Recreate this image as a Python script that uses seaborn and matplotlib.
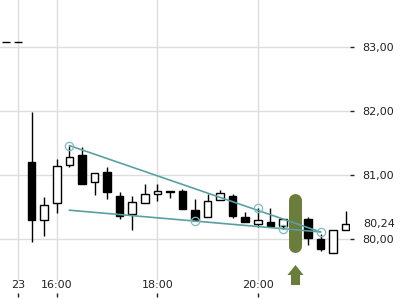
import matplotlib
matplotlib.use("Agg")
import matplotlib.pyplot as plt
import seaborn as sns
import numpy as np
import pandas as pd
from matplotlib.patches import Polygon

# ---- data ----
opens  = [81.20, 80.29, 80.57, 81.15, 81.31, 80.89, 81.05, 80.67, 80.39, 80.56, 80.70, 80.74, 80.75,
          80.45, 80.34, 80.61, 80.67, 80.35, 80.23, 80.27, 80.20, 80.31, 80.32, 80.00, 79.78, 80.14]
closes = [80.29, 80.53, 81.14, 81.28, 80.86, 81.03, 80.73, 80.36, 80.58, 80.70, 80.75, 80.75, 80.47,
          80.29, 80.60, 80.72, 80.36, 80.26, 80.29, 80.21, 80.31, 80.31, 80.01, 79.84, 80.14, 80.24]
highs  = [81.98, 80.65, 81.25, 81.46, 81.43, 81.03, 81.13, 80.74, 80.67, 80.86, 80.86, 80.75, 80.78,
          80.62, 80.70, 80.77, 80.71, 80.42, 80.48, 80.48, 80.31, 80.31, 80.34, 80.08, 80.14, 80.44]
lows   = [79.95, 80.05, 80.41, 81.13, 80.86, 80.68, 80.62, 80.31, 80.14, 80.56, 80.60, 80.64, 80.47,
          80.29, 80.34, 80.61, 80.33, 80.26, 80.19, 80.21, 80.15, 80.19, 79.90, 79.81, 79.78, 80.14]

x_tick_pos = [-1.1, 2, 10, 18]
x_tick_labels = ["23", "16:00", "18:00", "20:00"]
y_ticks = [80, 81, 82, 83]
y_tick_labels = ["80,00", "81,00", "82,00", "83,00"]
last_price = 80.24
last_label = "80,24"

upper_x = [3, 23]
upper_y = [81.46, 80.11]
lower_x = [3, 23]
lower_y = [80.45, 80.11]
touch_x = [3, 13, 18, 20, 23]
touch_y = [81.46, 80.28, 80.48, 80.15, 80.11]

prev_x = [-2.36, -0.77]
prev_y = [83.08, 83.08]

signal_idx = 22 - 1  # highlighted candle index

df = pd.DataFrame({"x": np.arange(len(opens)), "open": opens, "close": closes,
                   "high": highs, "low": lows})

# ---- style ----
sns.set_theme(style="white")
plt.rcParams['font.family'] = ['DejaVu Sans']
plt.rcParams['lines.scale_dashes'] = False

fig = plt.figure(figsize=(4, 3), dpi=100)
ax = fig.add_axes([0, 3/300, 350/400, 297/300])
ax.set_xlim(-2.524, 25.34)
ax.set_ylim(79.094, 83.734)
for s in ax.spines.values():
    s.set_visible(False)

grid_c = "#dddddd"
for yv in y_ticks:
    ax.axhline(yv, color=grid_c, lw=1.0, zorder=0)
for xv in x_tick_pos:
    ax.axvline(xv, ymin=0.057, ymax=1, color=grid_c, lw=1.0, zorder=0)

# wicks
ax.vlines(df["x"], df["low"], df["high"], color="black", lw=1.0, zorder=2)
# bodies
up = df["close"] >= df["open"]
bottoms = np.minimum(df["open"], df["close"])
heights = np.abs(df["close"] - df["open"])
ax.bar(df["x"], heights, bottom=bottoms, width=0.6,
       color=np.where(up, "white", "black"), edgecolor="black", linewidth=1.0, zorder=3)

# highlight oval
px = 12.56  # pixels per index unit
ax.plot([signal_idx, signal_idx], [80.617, 79.898], color="#6b7d3b", lw=13*0.72,
        solid_capstyle="round", zorder=4)
# up arrow
ax.add_patch(Polygon([[signal_idx, 79.594], [signal_idx + 0.64, 79.4375],
                      [signal_idx + 0.36, 79.4375], [signal_idx + 0.36, 79.281],
                      [signal_idx - 0.36, 79.281], [signal_idx - 0.36, 79.4375],
                      [signal_idx - 0.64, 79.4375]], closed=True,
                     facecolor="#6b7d3b", edgecolor="none", zorder=4))

# trend lines
teal = "#5a9fa2"
sns.lineplot(x=upper_x, y=upper_y, ax=ax, color=teal, lw=1.2, zorder=5)
sns.lineplot(x=lower_x, y=lower_y, ax=ax, color=teal, lw=1.2, zorder=5)
ax.plot(touch_x, touch_y, linestyle="none", marker="o", markersize=6.0,
        markerfacecolor="none", markeredgecolor="#7dbcc0", markeredgewidth=0.9, zorder=6)

# previous level dashed
ax.plot(prev_x, prev_y, color="black", lw=1.0, dashes=(5.8, 2.9), zorder=5)

# axes ticks
ax.yaxis.tick_right()
ax.set_yticks(y_ticks)
ax.set_yticklabels(y_tick_labels)
ax.tick_params(axis="y", direction="out", length=3, width=1, pad=6, colors="#222222",
               labelsize=8, right=True, left=False)
ax.set_xticks(x_tick_pos)
ax.set_xticklabels(x_tick_labels)
ax.tick_params(axis="x", direction="in", length=3, width=1, pad=-12, colors="#222222",
               labelsize=8, bottom=True)
ax.text(1.0 + 13/350, last_price, last_label, transform=ax.get_yaxis_transform(),
        ha="left", va="center", fontsize=8, color="#222222", clip_on=False)
ax.set_xlabel("")
ax.set_ylabel("")
if ax.get_legend():
    ax.get_legend().remove()

fig.savefig("out.png", dpi=100)
